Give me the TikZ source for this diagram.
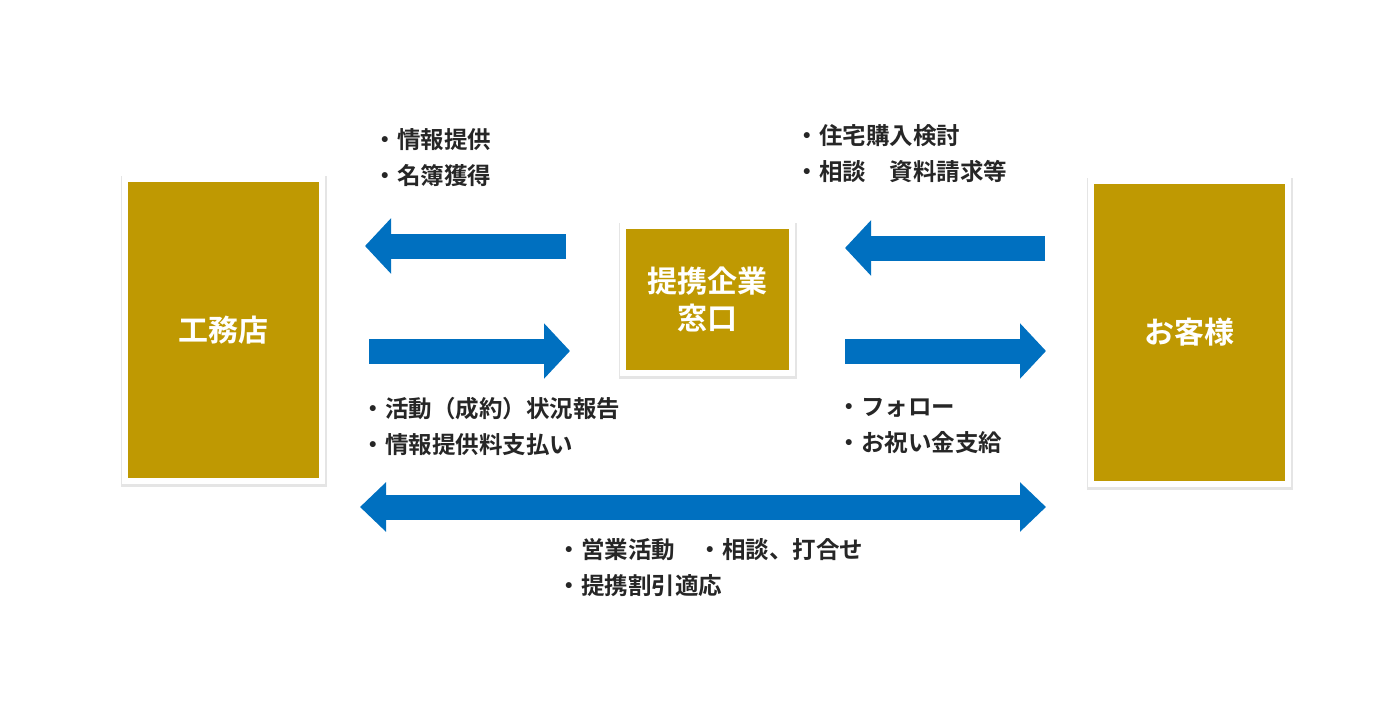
\documentclass[tikz,border=0pt]{standalone}
\usepackage{fontspec}
\setmainfont{Noto Sans CJK JP Bold}
\usetikzlibrary{arrows.meta}
\begin{document}
\begin{tikzpicture}[x=1pt,y=-1pt,
 box/.style={preaction={draw=black!10,line width=9pt,transform canvas={yshift=-1pt}},draw=white,line width=6pt,fill=gold,inner sep=0pt,text=white,font=\fontsize{30}{37}\selectfont,align=center},
 arr/.style={draw=blue1,line width=25pt,-{Triangle[length=26pt,width=54pt]}},
 darr/.style={draw=blue1,line width=25pt,{Triangle[length=26pt,width=48pt]}-{Triangle[length=26pt,width=48pt]}},
 lbl/.style={anchor=west,font=\fontsize{23.5}{36}\selectfont,align=left,text=black!85}]
\definecolor{gold}{RGB}{191,153,2}
\definecolor{blue1}{RGB}{0,112,192}
\useasboundingbox (0,0) rectangle (1398,728);
\node[box,minimum width=197pt,minimum height=302pt] (ko) at (223.5,330) {工務店};
\node[box,minimum width=169pt,minimum height=147pt] (mado) at (707.5,299.5) {提携企業\\窓口};
\node[box,minimum width=197pt,minimum height=303pt] (kyaku) at (1189.5,332.5) {お客様};
\coordinate (a1s) at (566,246); \coordinate (a1e) at (365,246);
\coordinate (a2s) at (369,351); \coordinate (a2e) at (570,351);
\coordinate (a3s) at (1045,248); \coordinate (a3e) at (845,248);
\coordinate (a4s) at (845,351); \coordinate (a4e) at (1046,351);
\coordinate (a5s) at (360,507); \coordinate (a5e) at (1046,507);
\draw[arr] (a1s) -- (a1e);
\draw[arr] (a2s) -- (a2e);
\draw[arr] (a3s) -- (a3e);
\draw[arr] (a4s) -- (a4e);
\draw[darr] (a5s) -- (a5e);
\node[lbl] (t1) at (370,158) {・情報提供\\・名簿獲得};
\node[lbl] (t2) at (792,154) {・住宅購入検討\\・相談　資料請求等};
\node[lbl] (t3) at (358,426) {・活動（成約）状況報告\\・情報提供料支払い};
\node[lbl] (t4) at (834,426) {・フォロー\\・お祝い金支給};
\node[lbl] (t5) at (554,568) {・営業活動　・相談、打合せ\\・提携割引適応};
\end{tikzpicture}
\end{document}
